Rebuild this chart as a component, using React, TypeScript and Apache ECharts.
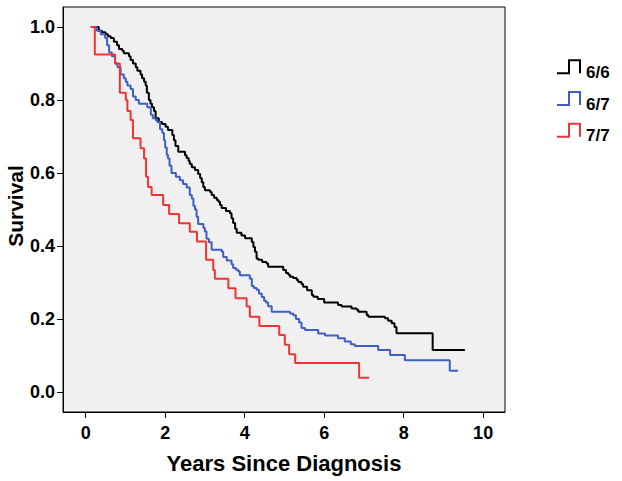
import { useEffect, useRef } from "react";
import * as echarts from "echarts";

const groupNames = ["6/6", "6/7", "7/7"];
const groupColors = ["#000000", "#3d5fc4", "#f03434"];

const time66 = [0.13, 0.33, 0.41, 0.50, 0.56, 0.63, 0.71, 0.79, 0.84, 0.92, 0.96, 1.09, 1.13, 1.19, 1.26, 1.30, 1.38, 1.42, 1.47, 1.51, 1.54, 1.59, 1.63, 1.67, 1.72, 1.76, 1.84, 1.92, 2.01, 2.07, 2.18, 2.22, 2.26, 2.33, 2.50, 2.54, 2.59, 2.62, 2.67, 2.75, 2.83, 2.88, 2.92, 2.96, 3.00, 3.13, 3.17, 3.23, 3.30, 3.34, 3.38, 3.42, 3.53, 3.63, 3.67, 3.71, 3.76, 3.80, 3.92, 4.01, 4.18, 4.22, 4.26, 4.30, 4.34, 4.44, 4.55, 4.59, 4.97, 5.04, 5.10, 5.14, 5.22, 5.31, 5.35, 5.43, 5.47, 5.57, 5.69, 5.73, 5.84, 6.00, 6.35, 6.44, 6.69, 6.82, 6.86, 7.07, 7.11, 7.53, 7.61, 7.70, 7.77, 7.82, 8.73, 9.54];
const surv66 = [1.0, 0.99, 0.986, 0.98, 0.975, 0.97, 0.96, 0.95, 0.94, 0.935, 0.928, 0.92, 0.91, 0.90, 0.89, 0.88, 0.87, 0.86, 0.85, 0.84, 0.82, 0.80, 0.79, 0.78, 0.77, 0.75, 0.74, 0.734, 0.727, 0.718, 0.704, 0.69, 0.674, 0.658, 0.649, 0.641, 0.633, 0.625, 0.616, 0.608, 0.597, 0.586, 0.575, 0.562, 0.553, 0.548, 0.54, 0.532, 0.526, 0.521, 0.512, 0.504, 0.496, 0.49, 0.476, 0.463, 0.447, 0.436, 0.429, 0.421, 0.411, 0.397, 0.384, 0.366, 0.362, 0.356, 0.352, 0.343, 0.334, 0.326, 0.321, 0.316, 0.312, 0.307, 0.301, 0.296, 0.288, 0.279, 0.266, 0.261, 0.255, 0.245, 0.238, 0.234, 0.229, 0.225, 0.220, 0.211, 0.206, 0.202, 0.195, 0.188, 0.178, 0.161, 0.115, 0.115];

const time67 = [0.13, 0.28, 0.38, 0.49, 0.54, 0.59, 0.66, 0.74, 0.80, 0.88, 0.96, 1.01, 1.05, 1.13, 1.19, 1.26, 1.34, 1.55, 1.64, 1.69, 1.76, 1.80, 1.87, 1.93, 1.97, 2.00, 2.04, 2.07, 2.11, 2.16, 2.27, 2.37, 2.45, 2.54, 2.62, 2.67, 2.71, 2.75, 2.79, 2.83, 2.96, 3.00, 3.04, 3.10, 3.17, 3.42, 3.46, 3.55, 3.67, 3.71, 3.78, 3.84, 3.88, 4.13, 4.18, 4.23, 4.30, 4.36, 4.43, 4.49, 4.54, 4.59, 4.68, 5.14, 5.22, 5.29, 5.37, 5.43, 5.52, 5.85, 6.02, 6.35, 6.52, 6.67, 6.77, 7.36, 7.66, 8.03, 9.16, 9.37];
const surv67 = [1.0, 0.99, 0.98, 0.97, 0.95, 0.93, 0.92, 0.90, 0.89, 0.87, 0.86, 0.85, 0.84, 0.83, 0.81, 0.80, 0.79, 0.78, 0.76, 0.75, 0.745, 0.74, 0.72, 0.71, 0.69, 0.67, 0.65, 0.64, 0.62, 0.60, 0.59, 0.58, 0.57, 0.56, 0.54, 0.53, 0.51, 0.50, 0.48, 0.46, 0.45, 0.44, 0.42, 0.41, 0.39, 0.385, 0.37, 0.36, 0.35, 0.34, 0.335, 0.33, 0.32, 0.31, 0.29, 0.285, 0.28, 0.27, 0.26, 0.25, 0.245, 0.235, 0.22, 0.215, 0.21, 0.20, 0.19, 0.175, 0.17, 0.16, 0.155, 0.147, 0.138, 0.131, 0.126, 0.115, 0.101, 0.087, 0.058, 0.058];

const time77 = [0.13, 0.23, 0.74, 0.86, 1.01, 1.05, 1.13, 1.19, 1.38, 1.47, 1.52, 1.57, 1.66, 1.95, 2.10, 2.35, 2.62, 2.80, 3.03, 3.21, 3.25, 3.59, 3.77, 4.05, 4.13, 4.37, 4.87, 5.01, 5.12, 5.27, 6.88, 7.13];
const surv77 = [1.0, 0.925, 0.90, 0.82, 0.80, 0.77, 0.745, 0.695, 0.668, 0.64, 0.59, 0.562, 0.54, 0.512, 0.488, 0.462, 0.439, 0.412, 0.362, 0.334, 0.31, 0.284, 0.257, 0.234, 0.206, 0.181, 0.156, 0.129, 0.103, 0.079, 0.039, 0.039];

const xTicks = [0, 2, 4, 6, 8, 10];
const yTicks = [0, 0.2, 0.4, 0.6, 0.8, 1.0];
const xTitle = "Years Since Diagnosis";
const yTitle = "Survival";

const FONT = "'Liberation Sans', Arial, Helvetica, sans-serif";

export default function App() {
  const ref = useRef<HTMLDivElement>(null);
  useEffect(() => {
    document.body.style.margin = "0";
    const chart = echarts.init(ref.current!, null, { renderer: "svg" });
    const curves = [
      [time66, surv66],
      [time67, surv67],
      [time77, surv77],
    ];
    const graphics: any[] = [];
    groupNames.forEach((name, i) => {
      const base = 73.3 + i * 31.7;
      graphics.push({
        type: "polyline",
        shape: {
          points: [
            [557, base],
            [569, base],
            [569, base - 13],
            [580, base - 13],
            [580, base],
          ],
        },
        style: { stroke: groupColors[i], lineWidth: 2, fill: null },
      });
      graphics.push({
        type: "text",
        x: 586,
        y: base - 1,
        style: {
          text: name,
          font: `bold 17px ${FONT}`,
          fill: "#000",
          textVerticalAlign: "middle",
          verticalAlign: "middle",
        },
      });
    });
    graphics.push({
      type: "text",
      x: 15,
      y: 206,
      rotation: Math.PI / 2,
      style: {
        text: yTitle,
        font: `bold 21px ${FONT}`,
        fill: "#000",
        textAlign: "center",
        align: "center",
        textVerticalAlign: "middle",
        verticalAlign: "middle",
      },
    });

    chart.setOption({
      animation: false,
      backgroundColor: "#ffffff",
      grid: {
        left: 63,
        top: 7,
        right: 117,
        bottom: 69,
        containLabel: false,
        outerBoundsMode: "none",
        show: true,
        backgroundColor: "#f0f0f0",
        borderColor: "#000",
        borderWidth: 1,
      },
      xAxis: {
        type: "value",
        min: -0.57,
        max: 10.55,
        axisLine: { show: true, onZero: false, lineStyle: { color: "#000", width: 1 } },
        axisTick: { show: true, customValues: xTicks, length: 6, lineStyle: { color: "#000" } },
        axisLabel: {
          customValues: xTicks,
          fontSize: 18,
          fontWeight: "bold",
          color: "#000",
          fontFamily: FONT,
          margin: 12,
        },
        splitLine: { show: false },
        name: xTitle,
        nameLocation: "middle",
        nameGap: 40,
        nameTextStyle: { fontSize: 22, fontWeight: "bold", color: "#000", fontFamily: FONT },
      },
      yAxis: {
        type: "value",
        min: -0.055,
        max: 1.055,
        axisLine: { show: true, onZero: false, lineStyle: { color: "#000", width: 1 } },
        axisTick: { show: true, customValues: yTicks, length: 6, lineStyle: { color: "#000" } },
        axisLabel: {
          customValues: yTicks,
          formatter: (v: number) => v.toFixed(1),
          fontSize: 18,
          fontWeight: "bold",
          color: "#000",
          fontFamily: FONT,
          margin: 8,
        },
        splitLine: { show: false },
      },
      graphic: graphics,
      series: curves.map(([t, s], i) => ({
        name: groupNames[i],
        type: "line",
        step: "end",
        showSymbol: false,
        symbol: "none",
        data: t.map((x, k) => [x, s[k]]),
        lineStyle: { color: groupColors[i], width: 2 },
        itemStyle: { color: groupColors[i] },
      })),
    });
    return () => chart.dispose();
  }, []);
  return <div ref={ref} style={{ width: 622, height: 481 }} />;
}
